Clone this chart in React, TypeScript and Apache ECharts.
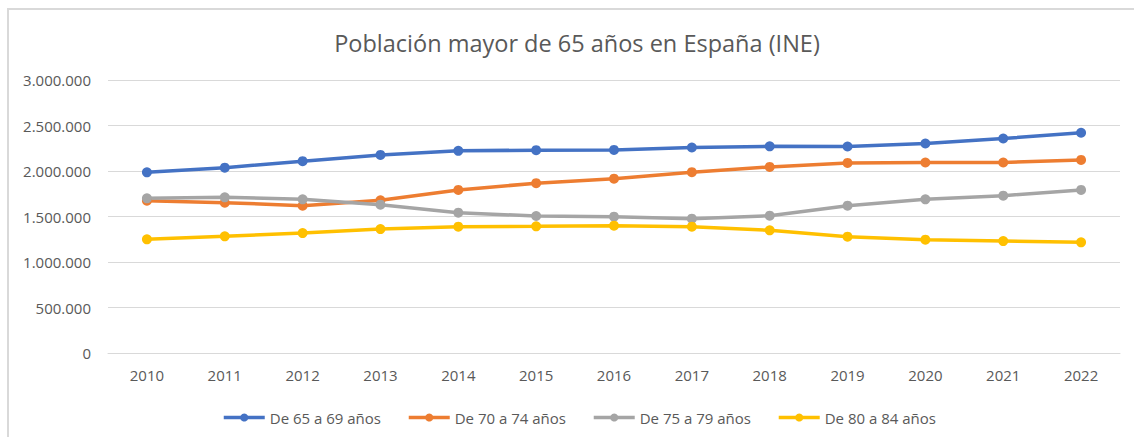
import React, { useEffect, useRef } from "react";
import * as echarts from "echarts";

const years = ["2010", "2011", "2012", "2013", "2014", "2015", "2016", "2017", "2018", "2019", "2020", "2021", "2022"];
const seriesNames = ["De 65 a 69 años", "De 70 a 74 años", "De 75 a 79 años", "De 80 a 84 años"];
const de65a69 = [1985000, 2037000, 2108000, 2177000, 2222000, 2229000, 2232000, 2258000, 2271000, 2269000, 2302000, 2357000, 2420000];
const de70a74 = [1674000, 1652000, 1619000, 1678000, 1792000, 1866000, 1916000, 1987000, 2045000, 2089000, 2093000, 2093000, 2122000];
const de75a79 = [1700000, 1711000, 1689000, 1630000, 1542000, 1505000, 1498000, 1476000, 1509000, 1619000, 1689000, 1729000, 1792000];
const de80a84 = [1249000, 1282000, 1318000, 1362000, 1388000, 1392000, 1399000, 1388000, 1348000, 1278000, 1245000, 1230000, 1216000];
const colors = ["#4472C4", "#ED7D31", "#A5A5A5", "#FFC000"];
const titleText = "Población mayor de 65 años en España (INE)";

const FONT = "'Open Sans', 'Noto Sans', sans-serif";

function fmt(v: number): string {
  return String(Math.round(v)).replace(/\B(?=(\d{3})+(?!\d))/g, ".");
}

export default function App() {
  const ref = useRef<HTMLDivElement>(null);
  useEffect(() => {
    if (!ref.current) return;
    const chart = echarts.init(ref.current, null, { renderer: "svg" });
    const allData = [de65a69, de70a74, de75a79, de80a84];
    chart.setOption({
      animation: false,
      backgroundColor: "#ffffff",
      title: {
        text: titleText,
        left: 572,
        textAlign: "center",
        top: 26,
        textStyle: { fontFamily: FONT, fontSize: 23.5, fontWeight: "normal", color: "#595959" },
      },
      legend: {
        data: seriesNames,
        left: 217,
        top: 405,
        orient: "horizontal",
        itemWidth: 41,
        itemHeight: 10,
        itemGap: 26,
        lineStyle: { width: 3.5 },
        textStyle: { fontFamily: FONT, fontSize: 15, color: "#595959" },
      },
      grid: { left: 108, right: 14, top: 80, bottom: 84, containLabel: false },
      xAxis: {
        type: "category",
        data: years,
        boundaryGap: true,
        axisLine: { lineStyle: { color: "#d9d9d9", width: 1 } },
        axisTick: { show: false },
        axisLabel: { fontFamily: FONT, fontSize: 15, color: "#595959", margin: 14 },
      },
      yAxis: {
        type: "value",
        min: 0,
        max: 3000000,
        interval: 500000,
        axisLine: { show: false },
        axisTick: { show: false },
        splitLine: { lineStyle: { color: "#d9d9d9", width: 1 } },
        axisLabel: { fontFamily: FONT, fontSize: 15, color: "#595959", margin: 17, formatter: (v: number) => fmt(v) },
      },
      graphic: [
        { type: "line", shape: { x1: 7, y1: 9, x2: 1134, y2: 9 }, style: { stroke: "#d9d9d9", lineWidth: 2 } },
        { type: "line", shape: { x1: 8, y1: 8, x2: 8, y2: 437 }, style: { stroke: "#d9d9d9", lineWidth: 2 } },
      ],
      series: seriesNames.map((name, i) => ({
        name,
        type: "line",
        data: allData[i],
        symbol: "circle",
        symbolSize: 10,
        showSymbol: true,
        lineStyle: { color: colors[i], width: 3.5 },
        itemStyle: { color: colors[i] },
        emphasis: { disabled: true },
      })),
    });
    return () => chart.dispose();
  }, []);
  return <div ref={ref} style={{ position: "fixed", left: 0, top: 0, width: 1134, height: 437 }} />;
}
